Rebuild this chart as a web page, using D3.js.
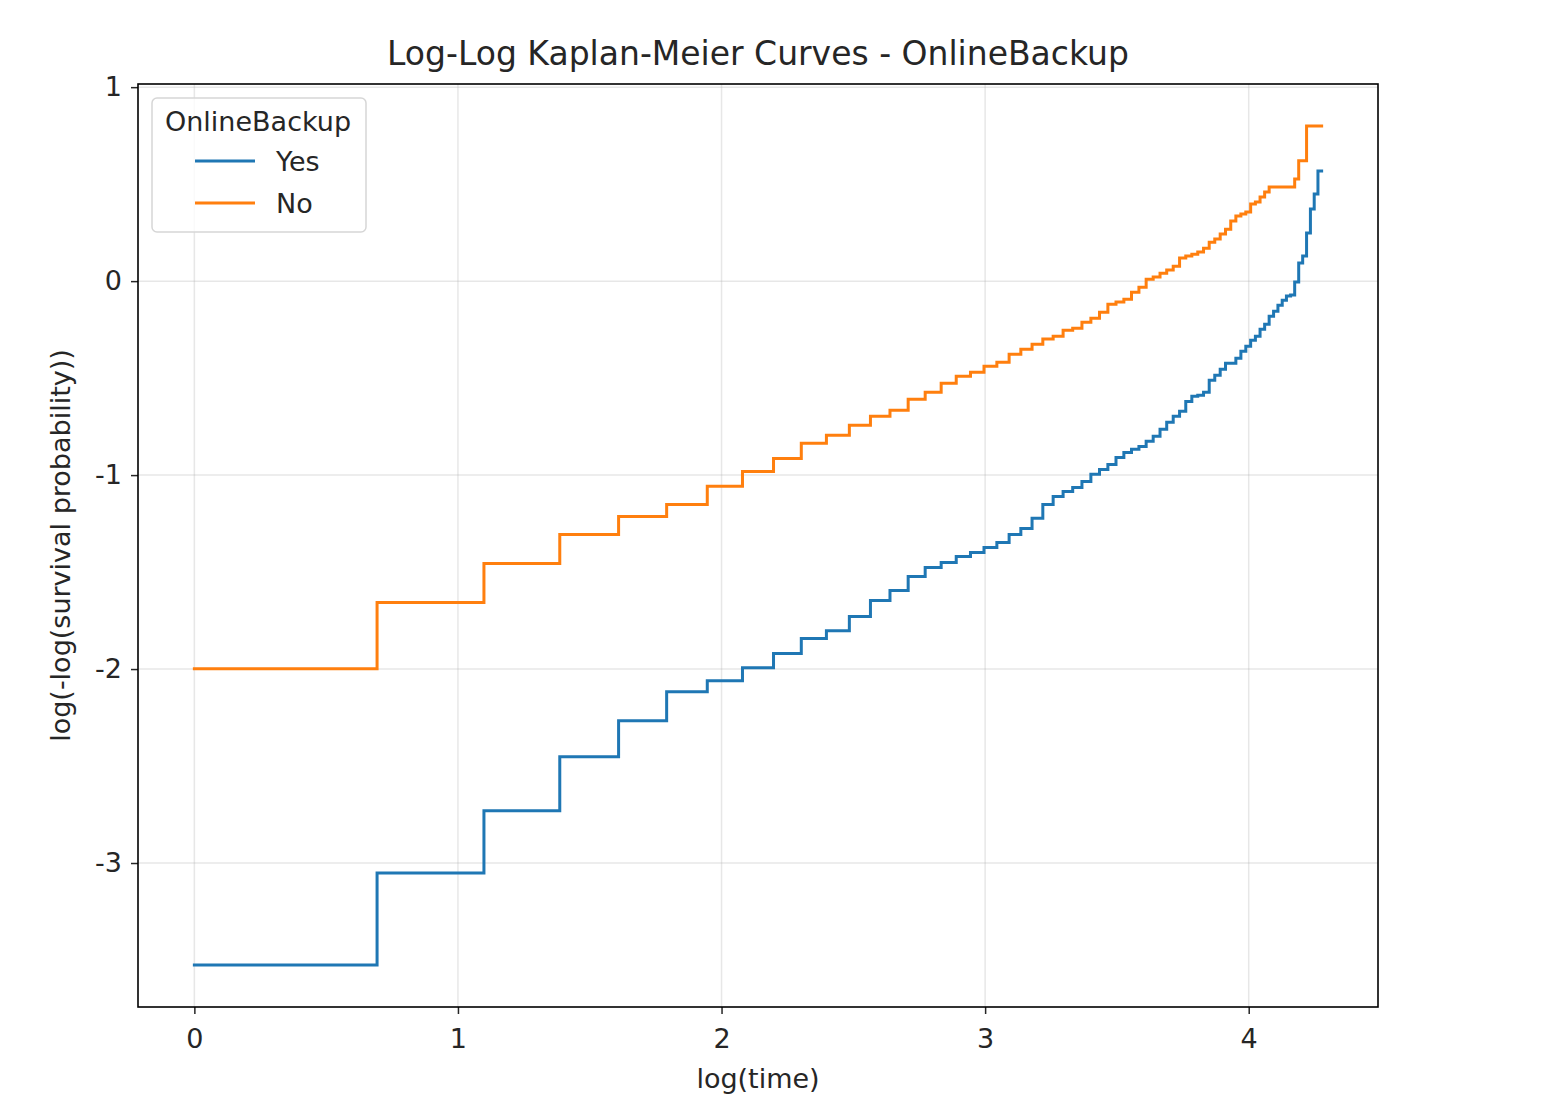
<!DOCTYPE html>
<html>
<head>
<meta charset="utf-8">
<script src="https://cdn.jsdelivr.net/npm/d3@7"></script>
<style>
  html, body { margin: 0; padding: 0; background: #ffffff; }
  svg text { font-family: "DejaVu Sans", sans-serif; fill: #262626; }
</style>
</head>
<body>
<svg id="chart" width="1547" height="1118"></svg>
<script>
// tenure in months (plotted as log(time))
const times = d3.range(1, 73);

// log(-log(S(t))) for OnlineBackup = Yes
const yesValues = [
  -3.526, -3.051, -2.731, -2.452, -2.266, -2.117, -2.060, -1.993, -1.920, -1.843,
  -1.802, -1.729, -1.647, -1.595, -1.523, -1.477, -1.451, -1.420, -1.399, -1.373,
  -1.347, -1.306, -1.275, -1.223, -1.151, -1.110, -1.084, -1.064, -1.033, -0.996,
  -0.971, -0.945, -0.909, -0.883, -0.867, -0.852, -0.826, -0.800, -0.764, -0.728,
  -0.697, -0.671, -0.620, -0.594, -0.589, -0.573, -0.511, -0.485, -0.454, -0.423,
  -0.423, -0.398, -0.361, -0.336, -0.305, -0.284, -0.248, -0.222, -0.181, -0.155,
  -0.124, -0.098, -0.077, -0.072, -0.005, 0.093, 0.129, 0.248, 0.372, 0.449,
  0.568, 0.568
];

// log(-log(S(t))) for OnlineBackup = No
const noValues = [
  -1.998, -1.657, -1.456, -1.306, -1.213, -1.151, -1.058, -0.981, -0.914, -0.836,
  -0.795, -0.743, -0.697, -0.666, -0.609, -0.573, -0.527, -0.490, -0.470, -0.439,
  -0.418, -0.377, -0.351, -0.325, -0.299, -0.284, -0.253, -0.243, -0.212, -0.191,
  -0.160, -0.119, -0.108, -0.093, -0.057, -0.031, 0.010, 0.021, 0.041, 0.057,
  0.077, 0.119, 0.129, 0.139, 0.150, 0.170, 0.201, 0.217, 0.243, 0.268,
  0.310, 0.336, 0.346, 0.356, 0.398, 0.408, 0.434, 0.459, 0.485, 0.485,
  0.485, 0.485, 0.485, 0.485, 0.527, 0.620, 0.620, 0.800, 0.800, 0.800,
  0.800, 0.800
];

const seriesNames = ["Yes", "No"];
const seriesColors = ["#1f77b4", "#ff7f0e"];
const xTicks = [0, 1, 2, 3, 4];
const yTicks = [-3, -2, -1, 0, 1];

const titleText = "Log-Log Kaplan-Meier Curves - OnlineBackup";
const xLabelText = "log(time)";
const yLabelText = "log(-log(survival probability))";
const legendTitle = "OnlineBackup";

const svg = d3.select("#chart");
const L = 138, T = 84, W = 1240, H = 923;
const FS = 27;

const series = [yesValues, noValues].map((vals, i) => ({
  name: seriesNames[i],
  color: seriesColors[i],
  points: times.map((t, j) => ({ x: Math.log(t), y: vals[j] }))
}));

const allX = series.flatMap(s => s.points.map(p => p.x));
const allY = series.flatMap(s => s.points.map(p => p.y));
const [x0, x1] = d3.extent(allX);
const [y0, y1] = d3.extent(allY);
const mx = (x1 - x0) * 0.05, my = (y1 - y0) * 0.05;

const x = d3.scaleLinear().domain([x0 - mx, x1 + mx]).range([L, L + W]);
const y = d3.scaleLinear().domain([y0 - my, y1 + my]).range([T + H, T]);

const g = svg.append("g");

// grid
g.append("g").selectAll("line").data(xTicks).join("line")
  .attr("x1", d => x(d)).attr("x2", d => x(d))
  .attr("y1", T).attr("y2", T + H)
  .attr("stroke", "#b0b0b0").attr("stroke-opacity", 0.3).attr("stroke-width", 1.5);
g.append("g").selectAll("line").data(yTicks).join("line")
  .attr("y1", d => y(d)).attr("y2", d => y(d))
  .attr("x1", L).attr("x2", L + W)
  .attr("stroke", "#b0b0b0").attr("stroke-opacity", 0.3).attr("stroke-width", 1.5);

// lines
const line = d3.line().x(d => x(d.x)).y(d => y(d.y)).curve(d3.curveStepAfter);
const plot = g.append("g");
plot.selectAll("path").data(series).join("path")
  .attr("d", d => line(d.points))
  .attr("fill", "none")
  .attr("stroke", d => d.color)
  .attr("stroke-width", 3)
  .attr("stroke-linejoin", "miter")
  .attr("stroke-linecap", "square");

// axes
const xAxis = d3.axisBottom(x).tickValues(xTicks).tickFormat(d3.format("d")).tickSize(7).tickPadding(10);
const yAxis = d3.axisLeft(y).tickValues(yTicks).tickFormat(d => (d < 0 ? "-" + Math.abs(d) : String(d))).tickSize(7).tickPadding(9);

const gx = g.append("g").attr("transform", `translate(0,${T + H})`).call(xAxis);
const gy = g.append("g").attr("transform", `translate(${L},0)`).call(yAxis);
[gx, gy].forEach(a => {
  a.select(".domain").remove();
  a.selectAll(".tick line").attr("stroke", "#262626").attr("stroke-width", 1.5);
  a.selectAll(".tick text").attr("font-size", FS).attr("fill", "#262626")
    .style("font-family", "'DejaVu Sans', sans-serif");
});
gx.selectAll(".tick text").attr("dy", "0.9em");

// frame
g.append("rect").attr("x", L).attr("y", T).attr("width", W).attr("height", H)
  .attr("fill", "none").attr("stroke", "#000").attr("stroke-width", 1.6);

// title & labels
svg.append("text").attr("x", L + W / 2).attr("y", 65).attr("text-anchor", "middle")
  .attr("font-size", 33).text(titleText);
svg.append("text").attr("x", L + W / 2).attr("y", 1088).attr("text-anchor", "middle")
  .attr("font-size", FS).text(xLabelText);
svg.append("text").attr("transform", `translate(70,${T + H / 2}) rotate(-90)`)
  .attr("text-anchor", "middle").attr("font-size", FS).text(yLabelText);

// legend
const lg = svg.append("g");
lg.append("rect").attr("x", 152).attr("y", 98).attr("width", 214).attr("height", 134)
  .attr("rx", 5).attr("ry", 5)
  .attr("fill", "#ffffff").attr("fill-opacity", 0.8)
  .attr("stroke", "#d6d6d6").attr("stroke-width", 1.5);
lg.append("text").attr("x", 258).attr("y", 131).attr("text-anchor", "middle")
  .attr("font-size", FS).text(legendTitle);
const items = lg.selectAll("g.item").data(series).join("g").attr("class", "item")
  .attr("transform", (d, i) => `translate(0,${161 + i * 42})`);
items.append("line").attr("x1", 195).attr("x2", 255).attr("y1", 0).attr("y2", 0)
  .attr("stroke", d => d.color).attr("stroke-width", 3);
items.append("text").attr("x", 276).attr("y", 10).attr("font-size", FS).text(d => d.name);
</script>
</body>
</html>
